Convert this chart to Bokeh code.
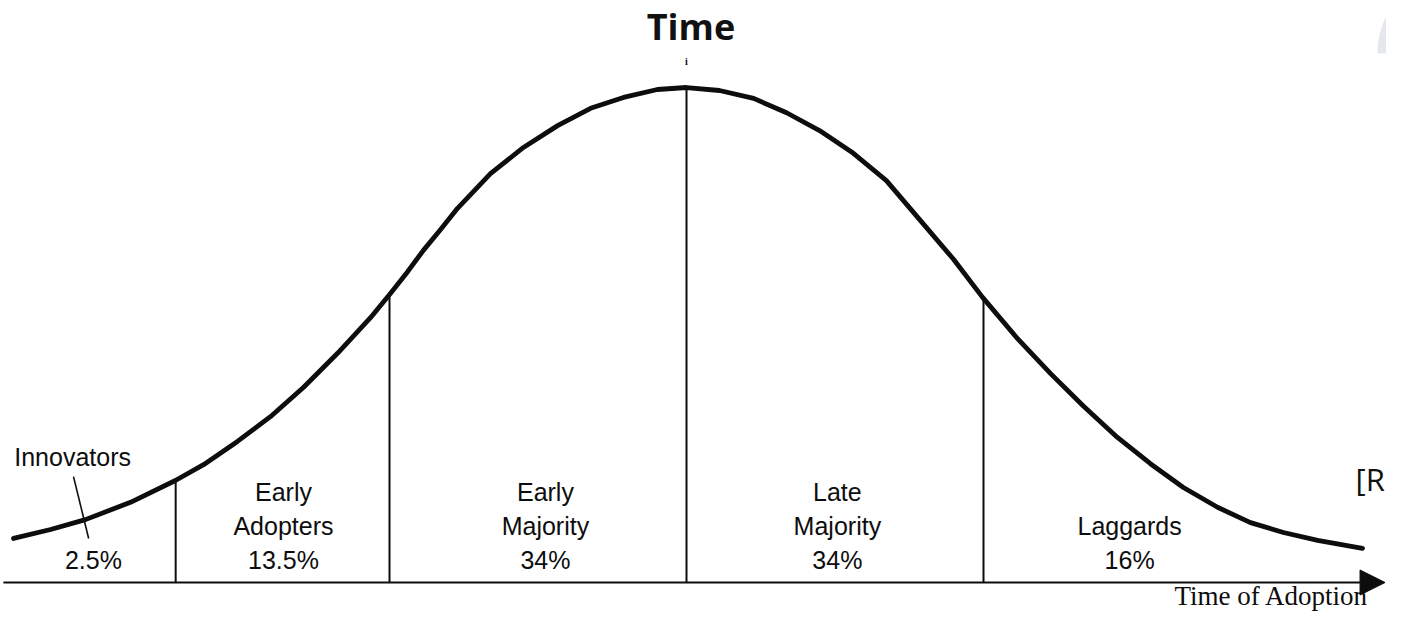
import numpy as np
from bokeh.plotting import figure
from bokeh.models import Range1d, Arrow, NormalHead
from bokeh.core.properties import value
from bokeh.embed import file_html
from bokeh.resources import INLINE

# ---------------- data ----------------
# adoption time in standard deviations from the mean, and relative share of adopters (peak = 1)
adoption_time_sd = [-2.266, -2.141, -2.024, -1.872, -1.721, -1.626, -1.512, -1.401, -1.290,
                    -1.175, -1.064, -0.997, -0.939, -0.886, -0.828, -0.771, -0.660, -0.549,
                    -0.434, -0.323, -0.212, -0.098, 0.0, 0.111, 0.226, 0.337, 0.448, 0.562,
                    0.673, 0.785, 0.899, 0.997, 1.114, 1.226, 1.337, 1.451, 1.562, 1.673,
                    1.788, 1.899, 2.010, 2.125, 2.276]
relative_adopters = [0.089, 0.107, 0.127, 0.162, 0.206, 0.238, 0.285, 0.335, 0.394,
                     0.463, 0.535, 0.584, 0.628, 0.671, 0.713, 0.756, 0.826, 0.879,
                     0.923, 0.958, 0.980, 0.996, 1.000, 0.994, 0.978, 0.949, 0.913, 0.867,
                     0.812, 0.733, 0.653, 0.576, 0.493, 0.422, 0.356, 0.293, 0.240, 0.192,
                     0.152, 0.121, 0.101, 0.085, 0.069]
segment_names = ["Innovators", "Early Adopters", "Early Majority", "Late Majority", "Laggards"]
segment_shares = [2.5, 13.5, 34, 34, 16]
segment_bounds = [-1.72, -1.0, 0.0, 1.0]
title_text = "Time"
axis_text = "Time of Adoption"
side_text = "[R"
mark_text = "i"

# ---------------- layout / style ----------------
label_x = [-1.997, -1.357, -0.475, 0.508, 1.492]
innovators_word_x = -2.067
leader_x = [-2.064, -2.013]
leader_y = [0.214, 0.089]
INK = "#0d0d0d"
LABEL_FONT = value("Liberation Sans")
LABEL_SIZE = "25px"

p = figure(width=1386, height=611,
           x_range=Range1d(-2.3098, 2.3569), y_range=Range1d(-0.0586, 1.1758),
           x_axis_type=None, y_axis_type=None,
           output_backend="svg", toolbar_location=None, min_border=0)
p.grid.visible = False
p.outline_line_color = None
p.background_fill_color = "white"
p.border_fill_color = "white"

# decorative grey corner shape (top right)
theta = np.linspace(np.pi / 2, np.pi, 40)
cx, cy = 2.606, 1.0687
gx = [cx] + list(cx + 0.2795 * np.cos(theta))
gy = [cy] + list(cy + 0.1677 * np.sin(theta))
p.patch(gx, gy, fill_color="#e4e8ec", line_color=None)

# baseline with arrow
p.add_layout(Arrow(end=NormalHead(size=25, fill_color=INK, line_color=INK, line_width=1),
                   x_start=-2.30, y_start=0, x_end=2.352, y_end=0,
                   line_width=2, line_color=INK))

# dividers from baseline up to the curve
tops = np.interp(segment_bounds, adoption_time_sd, relative_adopters)
p.segment(x0=segment_bounds, y0=[0] * len(segment_bounds),
          x1=segment_bounds, y1=list(tops), line_width=2, line_color=INK)

# adoption curve
p.line(adoption_time_sd, relative_adopters, line_width=4.8, line_color=INK,
       line_join="round", line_cap="round")

# innovators leader line
p.line(leader_x, leader_y, line_width=1.6, line_color=INK)

# percentage labels
pct = [f"{s:g}%" for s in segment_shares]
p.text(x=label_x, y=[0] * len(label_x), text=pct, y_offset=-22,
       text_align="center", text_baseline="alphabetic",
       text_font=LABEL_FONT, text_font_size=LABEL_SIZE, text_color=INK)

# name labels (segments 2..5 inside the curve)
first_x, first_t, last_x, last_t = [], [], [], []
for name, lx in zip(segment_names[1:], label_x[1:]):
    words = name.split()
    last_x.append(lx)
    last_t.append(words[-1])
    if len(words) > 1:
        first_x.append(lx)
        first_t.append(" ".join(words[:-1]))
p.text(x=last_x, y=[0] * len(last_x), text=last_t, y_offset=-56,
       text_align="center", text_baseline="alphabetic",
       text_font=LABEL_FONT, text_font_size=LABEL_SIZE, text_color=INK)
p.text(x=first_x, y=[0] * len(first_x), text=first_t, y_offset=-90,
       text_align="center", text_baseline="alphabetic",
       text_font=LABEL_FONT, text_font_size=LABEL_SIZE, text_color=INK)
p.text(x=[innovators_word_x], y=[0], text=[segment_names[0]], y_offset=-125,
       text_align="center", text_baseline="alphabetic",
       text_font=LABEL_FONT, text_font_size=LABEL_SIZE, text_color=INK)

# title
p.text(x=[0.015], y=[1.123], text=[title_text], text_align="center", text_baseline="alphabetic",
       text_font=value("Open Sans"), text_font_style="bold", text_font_size="36px", text_color="#111111")
p.text(x=[0.0], y=[1.052], text=[mark_text], text_align="center", text_baseline="alphabetic",
       text_font=value("Liberation Serif"), text_font_style="bold", text_font_size="10px", text_color=INK)

# axis caption
p.text(x=[2.296], y=[0], text=[axis_text], y_offset=14, text_align="right", text_baseline="alphabetic",
       text_font=value("Liberation Serif"), text_font_size="27px", text_color=INK)

# side text
p.text(x=[2.2525], y=[0.210], text=[side_text], text_align="left", text_baseline="alphabetic",
       text_font=value("Open Sans"), text_font_size="31px", text_color="#111111")

open("out.html", "w").write(file_html(p, INLINE))
